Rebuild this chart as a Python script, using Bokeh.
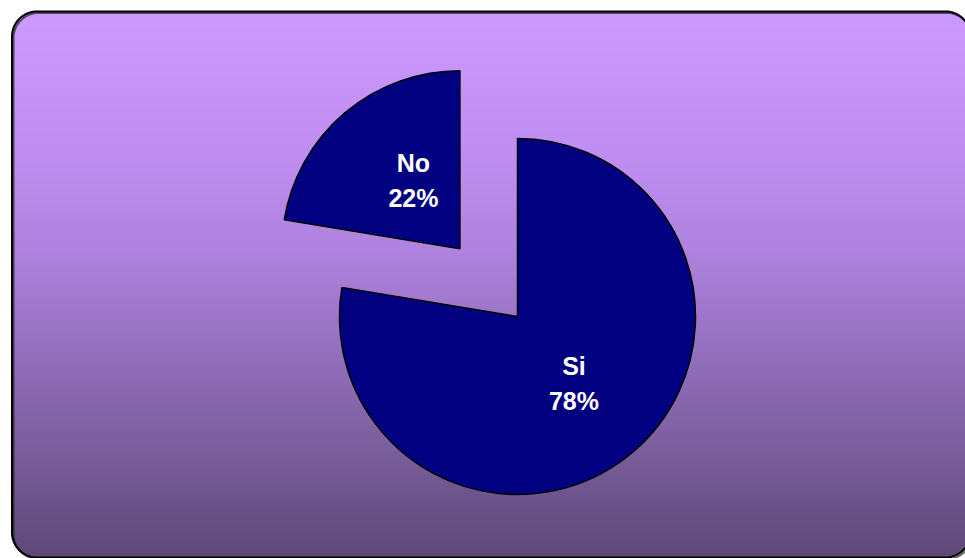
import numpy as np
from bokeh.plotting import figure
from bokeh.models import Range1d, ColumnDataSource
from bokeh.core.properties import value
from bokeh.embed import file_html
from bokeh.resources import INLINE

# ---- data ----
categories = ["Si", "No"]
shares = [77.6, 22.4]          # percent of answers
explode = [0.0, 0.5]           # fraction of radius the slice is pulled out

# ---- style ----
slice_color = "#000080"
grad_pos = [10, 150, 250, 350, 450, 556]   # page y of gradient stops
grad_col = ["#CC99FF", "#C08EF2", "#AE82DE", "#9470BE", "#7A5E9C", "#5F4878"]

W, H = 965, 558
p = figure(width=W, height=H, x_range=Range1d(0, W), y_range=Range1d(0, H),
           output_backend="svg", toolbar_location=None, min_border=0,
           x_axis_location=None, y_axis_location=None)
p.grid.visible = False
p.outline_line_color = None
p.background_fill_color = "white"
p.border_fill_color = "white"

# ---- rounded frame with vertical gradient ----
L, R, B, T, rad = 11.5, 970.0, 1.0, 547.0, 25.0

def hex2rgb(h):
    return np.array([int(h[i:i + 2], 16) for i in (1, 3, 5)], dtype=float)

stops = np.array([hex2rgb(c) for c in grad_col])

def inset(yc):
    d = min(T - yc, yc - B)
    if d >= rad:
        return 0.0
    d = max(d, 0.0)
    return rad - np.sqrt(max(rad ** 2 - (rad - d) ** 2, 0.0))

ys = np.arange(B, T, 1.0)
lefts, rights, bots, tops, cols = [], [], [], [], []
for y0 in ys:
    yc = y0 + 0.5
    ins = inset(yc)
    sy = H - yc
    rgb = [np.interp(sy, grad_pos, stops[:, k]) for k in range(3)]
    lefts.append(L + ins)
    rights.append(R - ins)
    bots.append(y0)
    tops.append(min(y0 + 2.0, T))
    cols.append("#%02x%02x%02x" % tuple(int(round(v)) for v in rgb))
p.quad(left=lefts, right=rights, bottom=bots, top=tops, fill_color=cols,
       line_color=None)

def rounded_path(l, r, b, t, rr, n=20):
    xs, yy = [], []
    corners = [(r - rr, t - rr, 0, 90), (l + rr, t - rr, 90, 180),
               (l + rr, b + rr, 180, 270), (r - rr, b + rr, 270, 360)]
    for cx, cy, a0, a1 in corners:
        a = np.radians(np.linspace(a0, a1, n))
        xs.extend(cx + rr * np.cos(a))
        yy.extend(cy + rr * np.sin(a))
    xs.append(xs[0])
    yy.append(yy[0])
    return xs, yy

sx, sy_ = rounded_path(L + 1.5, R + 1.5, B - 1.5, T - 1.5, rad)
p.line(sx, sy_, line_color="#222222", line_width=2, line_alpha=0.7)
fx, fy = rounded_path(L, R, B, T, rad)
p.line(fx, fy, line_color="black", line_width=2)

# ---- pie ----
cx, cy, Rp = 517.0, 242.0, 178.0
total = float(sum(shares))
cum = np.concatenate([[0.0], np.cumsum(shares)]) / total
a_start = np.radians(90 - 360 * cum[:-1])   # clockwise from 12 o'clock
a_end = np.radians(90 - 360 * cum[1:])
mid = (a_start + a_end) / 2
ox = cx + np.array(explode) * Rp * np.cos(mid)
oy = cy + np.array(explode) * Rp * np.sin(mid)

src = ColumnDataSource(dict(x=ox, y=oy, start=a_end, end=a_start,
                            cat=categories))
p.wedge(x="x", y="y", radius=Rp, start_angle="start", end_angle="end",
        direction="anticlock", fill_color=slice_color, line_color="black",
        line_width=1.5, source=src)

lab_r = 0.49 * Rp
lx = ox + lab_r * np.cos(mid)
ly = oy + lab_r * np.sin(mid)
lx[1] += 10
ly[1] += 2
pct = ["%d%%" % round(s / total * 100) for s in shares]
gap = 17.5
p.text(x=list(lx), y=list(ly + gap), text=categories, text_color="white",
       text_font=value("Liberation Sans"), text_font_style="bold",
       text_font_size="25px", text_align="center", text_baseline="middle")
p.text(x=list(lx), y=list(ly - gap), text=pct, text_color="white",
       text_font=value("Liberation Sans"), text_font_style="bold",
       text_font_size="25px", text_align="center", text_baseline="middle")

open("out.html", "w").write(file_html(p, INLINE))
